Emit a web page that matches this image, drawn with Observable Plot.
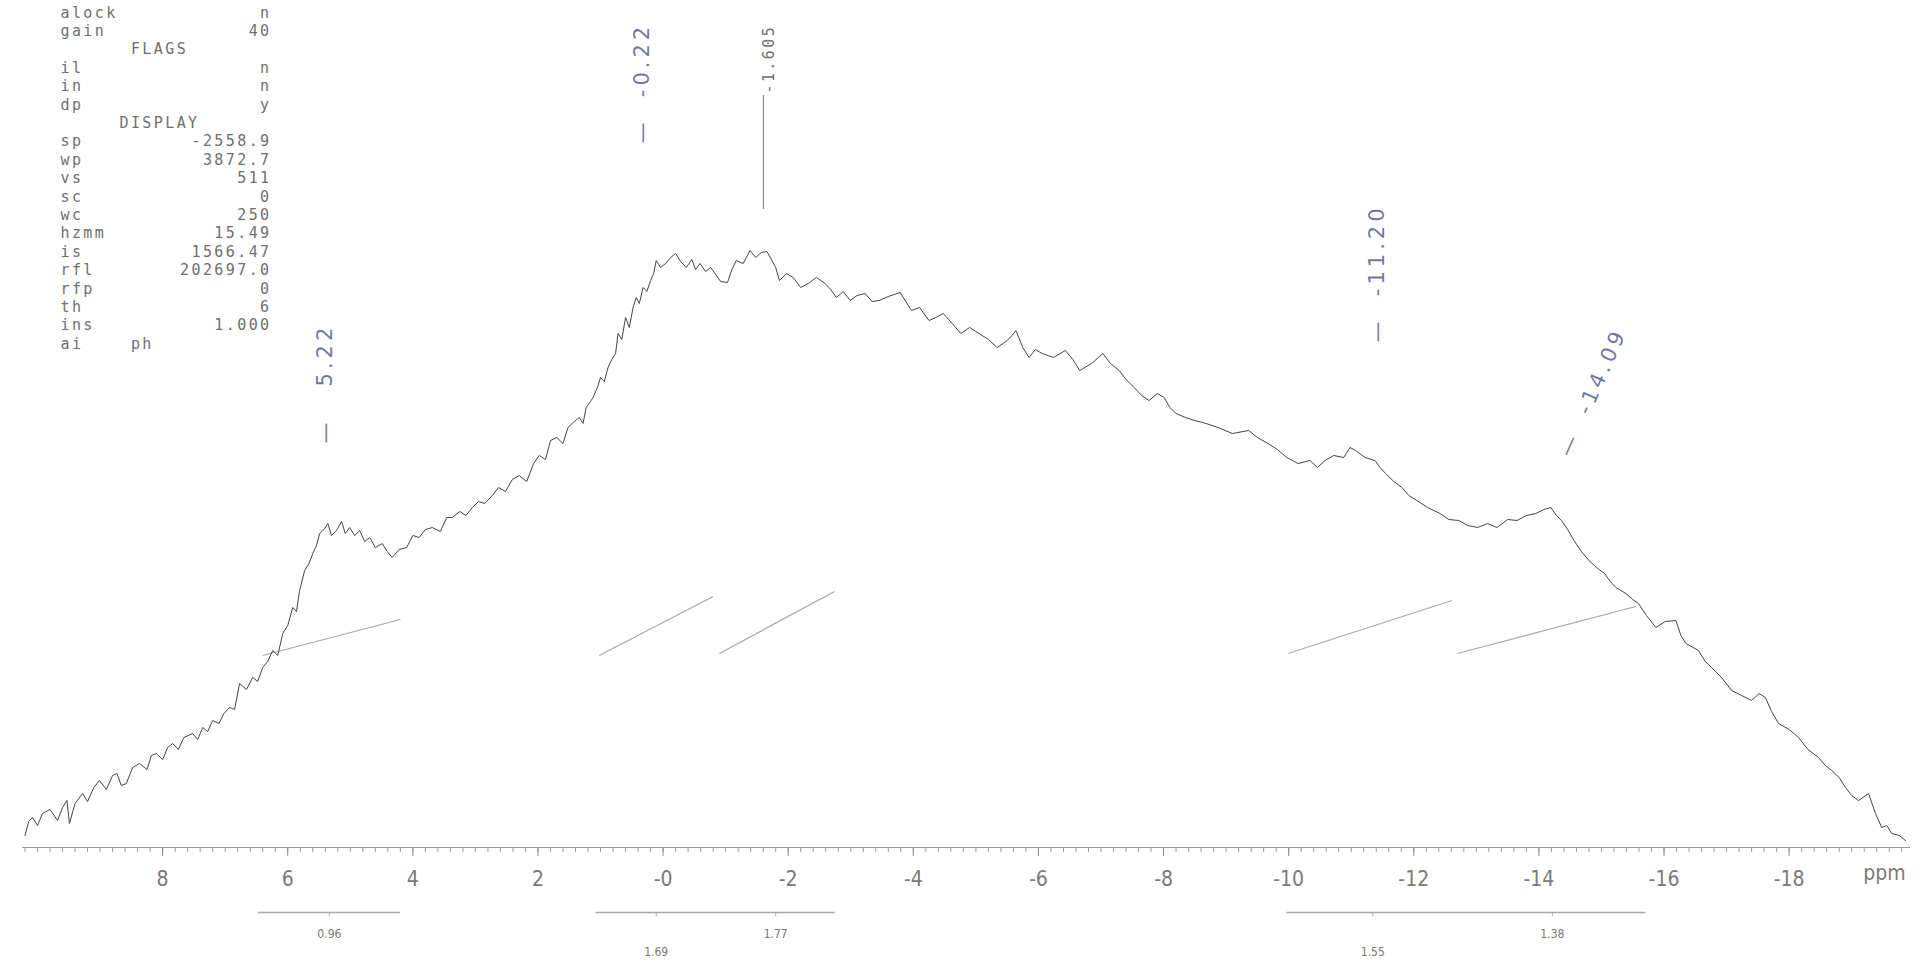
<!DOCTYPE html>
<html>
<head>
<meta charset="utf-8">
<script src="https://cdn.jsdelivr.net/npm/d3@7"></script>
<script src="https://cdn.jsdelivr.net/npm/@observablehq/plot@0.6"></script>
<style>
html, body { margin: 0; padding: 0; background: #ffffff; overflow: hidden; }
</style>
</head>
<body>
<div id="chart"></div>
<script>
// ---- spectrum (chemical shift in ppm, intensity in arbitrary units) ----
const ppm = [
 10.20,10.14,10.08,10.00,9.92,9.80,9.68,9.60,9.53,9.49,9.40,9.28,9.20,9.10,9.01,8.90,8.80,8.73,8.66,8.58,
 8.48,8.37,8.25,8.18,8.10,8.00,7.92,7.84,7.75,7.66,7.52,7.44,7.36,7.28,7.20,7.10,7.02,6.93,6.85,6.77,
 6.66,6.56,6.48,6.40,6.32,6.24,6.16,6.08,6.00,5.92,5.86,5.81,5.73,5.66,5.60,5.54,5.49,5.42,5.36,5.30,
 5.22,5.14,5.08,5.01,4.93,4.85,4.77,4.69,4.60,4.49,4.41,4.33,4.22,4.10,4.00,3.90,3.80,3.69,3.56,3.46,
 3.37,3.25,3.15,3.05,2.95,2.85,2.73,2.63,2.52,2.41,2.30,2.18,2.07,1.98,1.88,1.80,1.70,1.60,1.52,1.42,
 1.34,1.28,1.23,1.16,1.12,1.05,1.00,0.94,0.88,0.82,0.76,0.72,0.66,0.60,0.54,0.48,0.43,0.38,0.32,0.26,
 0.20,0.15,0.11,0.04,-0.04,-0.12,-0.20,-0.28,-0.37,-0.46,-0.52,-0.59,-0.68,-0.76,-0.83,-0.92,-1.03,-1.10,-1.17,-1.28,
 -1.39,-1.48,-1.57,-1.66,-1.74,-1.80,-1.86,-1.97,-2.08,-2.20,-2.32,-2.45,-2.59,-2.68,-2.77,-2.88,-2.99,-3.10,-3.23,-3.34,
 -3.45,-3.60,-3.79,-3.88,-3.97,-4.10,-4.25,-4.36,-4.48,-4.62,-4.76,-4.90,-5.05,-5.20,-5.34,-5.48,-5.58,-5.64,-5.75,-5.85,
 -5.95,-6.06,-6.24,-6.43,-6.55,-6.66,-6.85,-7.03,-7.15,-7.29,-7.40,-7.53,-7.65,-7.77,-7.90,-8.01,-8.10,-8.20,-8.35,-8.50,
 -8.68,-8.87,-9.10,-9.36,-9.50,-9.67,-9.82,-9.97,-10.15,-10.34,-10.46,-10.58,-10.72,-10.88,-10.98,-11.07,-11.22,-11.38,-11.46,-11.55,
 -11.68,-11.81,-11.92,-12.05,-12.22,-12.42,-12.56,-12.72,-12.86,-13.02,-13.18,-13.33,-13.50,-13.65,-13.80,-13.95,-14.08,-14.19,-14.28,-14.36,
 -14.46,-14.56,-14.68,-14.80,-14.92,-15.05,-15.14,-15.23,-15.39,-15.50,-15.59,-15.72,-15.87,-16.02,-16.19,-16.27,-16.35,-16.55,-16.66,-16.76,
 -16.92,-17.08,-17.24,-17.40,-17.52,-17.62,-17.72,-17.83,-18.00,-18.15,-18.30,-18.47,-18.58,-18.68,-18.80,-18.90,-19.00,-19.11,-19.27,-19.38,
 -19.48,-19.56,-19.64,-19.76,-19.86
];
const intensity = [
 12,26,30,22,34,38,27,40,47,24,44,54,46,60,67,58,72,74,62,64,
 80,84,78,92,94,88,100,104,98,110,114,108,120,116,127,124,134,140,138,164,
 158,170,166,180,186,197,192,214,222,240,236,257,277,284,294,302,314,318,324,312,
 317,326,314,320,312,317,306,310,300,304,296,290,298,300,312,310,318,320,316,330,
 330,336,332,340,346,344,352,360,356,368,372,366,384,392,388,407,410,404,420,426,
 430,424,440,446,450,460,470,466,480,488,494,514,508,530,520,540,550,544,560,556,
 567,574,587,580,584,590,594,586,580,588,578,584,576,580,574,566,565,578,587,584,
 597,590,595,596,587,580,567,574,570,560,564,570,564,558,550,556,547,552,554,546,
 547,551,555,546,537,540,527,530,534,524,514,520,514,508,500,506,512,517,500,490,
 498,494,490,497,488,477,484,494,484,477,468,460,452,447,454,450,440,434,430,427,
 424,420,414,417,410,404,398,390,384,387,380,387,392,390,400,397,390,387,380,374,
 366,360,352,347,340,334,328,327,322,320,324,320,328,327,332,334,338,340,332,327,
 318,307,296,287,280,274,266,260,254,248,244,232,220,226,227,212,204,197,186,180,
 170,157,152,147,154,150,136,124,118,110,98,90,82,77,70,60,52,47,54,34,
 20,22,14,12,7
];

// ---- axis ----
const majorTicks = [8, 6, 4, 2, 0, -2, -4, -6, -8, -10, -12, -14, -16, -18];
const axisUnit = "ppm";

// ---- printed peak label ----
const peakPositions = [-1.605];
const peakLabels = ["-1.605"];

// ---- integrals ----
const regionFrom   = [6.47, 1.07, -0.85, -9.97, -12.72];
const regionTo     = [4.20, -0.85, -2.75, -12.72, -15.71];
const integralVals = ["0.96", "1.69", "1.77", "1.55", "1.38"];
const labelLow     = [false, true, false, true, false];
const curveFrom    = [6.40, 1.02, -0.90, -9.99, -12.70];
const curveTo      = [4.20, -0.80, -2.74, -12.61, -15.55];
const curveStart   = [192, 192, 194, 194, 194];
const curveEnd     = [228, 251, 256, 247, 241];

// ---- handwritten annotations ----
const NB = "\u00a0";
const handLabels = ["\u2014" + NB + NB + NB + "5.22", "\u2014" + NB + NB + "-0.22", "\u2014" + NB + NB + "-11.20", "\u2014" + NB + NB + "-14.09"];
const handPpm    = [5.40, 0.33, -11.42, -14.41];
const handBase   = [404, 704, 505, 392];
const handAngle  = [-90, -90, -90, -66];

// ---- acquisition parameter block ----
const paramNames  = ["alock","gain","","il","in","dp","","sp","wp","vs","sc","wc","hzmm","is","rfl","rfp","th","ins","ai"];
const paramValues = ["n","40","","n","n","y","","-2558.9","3872.7","511","0","250","15.49","1566.47","202697.0","0","6","1.000",""];
const paramMiddle = ["","","\u00a0FLAGS","","","","DISPLAY","","","","","","","","","","","","\u00a0ph"];

// ---- build tables ----
const spectrum = ppm.map((p, i) => ({ppm: p, intensity: intensity[i]}));
const regions = regionFrom.map((f, i) => ({from: f, to: regionTo[i], mid: (f + regionTo[i]) / 2, label: integralVals[i], low: labelLow[i]}));
const curves = curveFrom.map((f, i) => ({x1: f, x2: curveTo[i], y1: curveStart[i], y2: curveEnd[i]}));
const hand = handLabels.map((t, i) => ({text: t, ppm: handPpm[i], y: handBase[i], rotate: handAngle[i]}));
const peaks = peakPositions.map((p, i) => ({ppm: p, label: peakLabels[i]}));
const minorTicks = d3.range(-99, 52).map(i => i / 5).filter(v => v <= 10.2 && v >= -19.9);

const gray = "#6f6f6f";
const handInk = "#55608e";
const narrow = "'Liberation Sans Narrow', 'DejaVu Sans Condensed', 'Liberation Sans', sans-serif";
const mono = "'DejaVu Sans Mono', 'Liberation Mono', monospace";

const chart = Plot.plot({
  width: 1931,
  height: 970,
  marginLeft: 22,
  marginRight: 21,
  marginTop: 0,
  marginBottom: 123,
  style: {background: "#ffffff", overflow: "visible"},
  x: {domain: [10.24, -19.94], axis: null},
  y: {domain: [0, 847], axis: null},
  marks: [
    // parameter block
    Plot.text([paramNames.join("\n")], {frameAnchor: "top-left", dx: 38, dy: 4, lineAnchor: "top", lineHeight: 1.227, textAnchor: "start", fontSize: 15, fontFamily: mono, fill: gray}),
    Plot.text([paramMiddle.join("\n")], {frameAnchor: "top-left", dx: 97, dy: 4, lineAnchor: "top", lineHeight: 1.227, textAnchor: "start", fontSize: 15, fontFamily: mono, fill: gray}),
    Plot.text([paramValues.join("\n")], {frameAnchor: "top-left", dx: 249, dy: 4, lineAnchor: "top", lineHeight: 1.227, textAnchor: "end", fontSize: 15, fontFamily: mono, fill: gray}),

    // axis
    Plot.ruleY([0], {stroke: "#9a9a9a", strokeWidth: 1}),
    Plot.axisX({ticks: minorTicks, tickSize: 5, tickFormat: () => "", stroke: "#9a9a9a"}),
    Plot.axisX({ticks: majorTicks, tickSize: 9, tickPadding: 15, tickFormat: d => d === 0 ? "-0" : String(d), fontSize: 21, fontFamily: narrow, fill: "#7a7a7a", stroke: "#8a8a8a"}),
    Plot.text([axisUnit], {frameAnchor: "bottom-right", dx: -26, dy: 32, textAnchor: "middle", fontSize: 21, fontFamily: narrow, fill: "#7a7a7a"}),

    // integral curves
    Plot.link(curves, {x1: "x1", x2: "x2", y1: "y1", y2: "y2", stroke: "#a8a8a8", strokeWidth: 1.2}),

    // integral bars and values
    Plot.ruleY(regions, {x1: "from", x2: "to", y: 0, dy: 65, stroke: "#a8a8a8", strokeWidth: 1.5}),
    Plot.ruleX(regions, {x: "mid", y1: 0, y2: -4, dy: 65, stroke: "#a8a8a8"}),
    Plot.text(regions.filter(d => !d.low), {x: "mid", y: 0, dy: 87, text: "label", fontSize: 12, fontFamily: narrow, fill: "#777"}),
    Plot.text(regions.filter(d => d.low), {x: "mid", y: 0, dy: 105, text: "label", fontSize: 12, fontFamily: narrow, fill: "#777"}),

    // spectrum
    Plot.line(spectrum, {x: "ppm", y: "intensity", stroke: "#444444", strokeWidth: 1.0, strokeLinejoin: "round"}),

    // printed peak label
    Plot.ruleX(peaks, {x: "ppm", y1: 638, y2: 752, stroke: "#8a8a8a", strokeWidth: 1.2}),
    Plot.text(peaks, {x: "ppm", frameAnchor: "top", dy: 93, text: "label", rotate: -90, textAnchor: "start", fontSize: 15, fontFamily: mono, fill: gray}),

    // handwritten annotations
    Plot.text(hand, {x: "ppm", y: "y", text: "text", rotate: "rotate", textAnchor: "start", fontSize: 21, fontFamily: "'DejaVu Sans', sans-serif", fill: handInk, fillOpacity: 0.85})
  ]
});
document.getElementById("chart").appendChild(chart);

// letter spacing for the plotter-style monospace text and the handwriting
chart.querySelectorAll("g").forEach(g => {
  const ff = g.getAttribute("font-family") || "";
  const fill = (g.getAttribute("fill") || "").toLowerCase();
  if (ff.includes("Mono")) g.style.letterSpacing = "2.4px";
  else if (fill === handInk) g.style.letterSpacing = "4px";
});
</script>
</body>
</html>
